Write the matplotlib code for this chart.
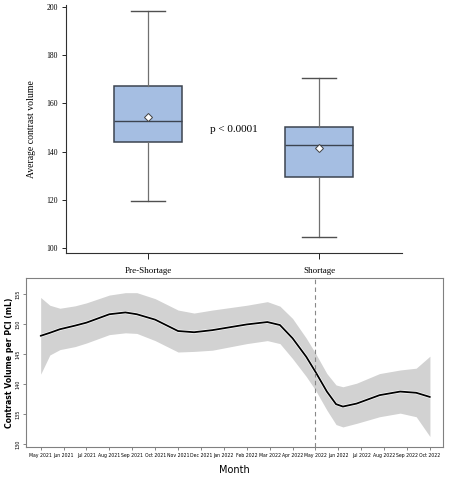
import matplotlib
matplotlib.use("Agg")
import matplotlib.pyplot as plt
import numpy as np

# ---- Top panel data (box plot stats) ----
groups = ["Pre-Shortage", "Shortage"]
whislo = [119.6, 104.7]
q1 = [144.0, 129.3]
med = [152.7, 142.6]
q3 = [167.3, 150.0]
whishi = [198.2, 170.7]
means = [154.3, 141.4]
p_text = "p < 0.0001"

# ---- Bottom panel data (smoothed trend with CI) ----
month_labels = ["May 2021", "Jun 2021", "Jul 2021", "Aug 2021", "Sep 2021", "Oct 2021",
                "Nov 2021", "Dec 2021", "Jan 2022", "Feb 2022", "Mar 2022", "Apr 2022",
                "May 2022", "Jun 2022", "Jul 2022", "Aug 2022", "Sep 2022", "Oct 2022"]
t = [0, 0.4, 0.84, 1.5, 2.0, 3.0, 3.7, 4.2, 5.0, 6.0, 6.7, 7.5, 9.0, 9.9, 10.45, 11.0,
     11.6, 12.0, 12.5, 12.9, 13.2, 13.8, 14.8, 15.7, 16.4, 17]
fit = [148.1, 148.6, 149.2, 149.8, 150.3, 151.7, 152.0, 151.7, 150.8, 148.9, 148.7, 149.05,
       150.0, 150.4, 149.9, 147.7, 144.6, 142.1, 138.8, 136.7, 136.3, 136.8, 138.2, 138.8, 138.6, 137.9]
upper = [154.5, 153.2, 152.7, 153.1, 153.6, 154.9, 155.3, 155.3, 154.3, 152.4, 151.9, 152.4,
         153.2, 153.8, 153.05, 151.0, 147.7, 145.2, 141.8, 139.9, 139.6, 140.2, 141.8, 142.4, 142.7, 144.7]
lower = [141.7, 144.9, 145.8, 146.3, 146.9, 148.3, 148.6, 148.5, 147.3, 145.4, 145.5, 145.7,
         146.8, 147.3, 146.8, 144.3, 141.3, 139.05, 135.7, 133.3, 132.9, 133.5, 134.6, 135.2, 134.6, 131.3]
shortage_start = 12

fig = plt.figure(figsize=(4.5, 4.8), dpi=100)

# ---------- Top panel ----------
serif = ["Liberation Serif", "DejaVu Serif"]
ax1 = fig.add_axes([0.1467, 0.473, 0.7466, 0.5166])
stats = []
for i in range(len(groups)):
    stats.append(dict(label=groups[i], whislo=whislo[i], q1=q1[i], med=med[i],
                      q3=q3[i], whishi=whishi[i], mean=means[i], fliers=[]))
ax1.bxp(stats, positions=[1, 2], widths=0.4, patch_artist=True, showmeans=True,
        boxprops=dict(facecolor="#a5bee2", edgecolor="#3c4450", linewidth=1.1),
        medianprops=dict(color="#3c4450", linewidth=1.0),
        whiskerprops=dict(color="#707070", linewidth=0.9),
        capprops=dict(color="#505050", linewidth=1.0),
        capwidths=0.2,
        meanprops=dict(marker="D", markerfacecolor="white", markeredgecolor="#404040",
                       markersize=4.5, markeredgewidth=0.7))
ax1.set_xlim(0.52, 2.485)
ax1.set_ylim(97.9, 200.8)
ax1.set_yticks([100, 120, 140, 160, 180, 200])
ax1.spines["top"].set_visible(False)
ax1.spines["right"].set_visible(False)
for s in ["left", "bottom"]:
    ax1.spines[s].set_color("#303030")
    ax1.spines[s].set_linewidth(0.8)
ax1.tick_params(axis="y", labelsize=5.5, length=3, width=0.6, pad=3)
ax1.tick_params(axis="x", labelsize=6.5, length=4, width=0.6, pad=6)
for lab in ax1.get_yticklabels() + ax1.get_xticklabels():
    lab.set_family(serif)
ax1.set_ylabel("Average contrast volume", family=serif, fontsize=7, labelpad=7)
ax1.text(1.5, 149, p_text, family=serif, fontsize=8, ha="center", va="center")

# ---------- Bottom panel ----------
ax2 = fig.add_axes([0.0578, 0.0681, 0.9266, 0.3534])
ax2.fill_between(t, lower, upper, color="#d2d2d2", linewidth=0)
ax2.plot(t, fit, color="white", linewidth=2.2, solid_capstyle="round", solid_joinstyle="round")
ax2.plot(t, fit, color="black", linewidth=1.3, solid_capstyle="round", solid_joinstyle="round")
ax2.axvline(shortage_start, color="#888888", linestyle=(0, (4, 3)), linewidth=0.8)
ax2.set_xlim(-0.64, 17.57)
ax2.set_ylim(129.5, 157.8)
ax2.set_xticks(range(len(month_labels)))
ax2.set_xticklabels(month_labels, fontsize=3.3)
ax2.set_yticks([130, 135, 140, 145, 150, 155])
ax2.set_yticklabels(["130", "135", "140", "145", "150", "155"], rotation=90, va="center", fontsize=3.5)
ax2.tick_params(length=2, width=0.5, color="#555555", pad=2)
for s in ax2.spines.values():
    s.set_color("#808080")
    s.set_linewidth(0.8)
ax2.set_ylabel("Contrast Volume per PCI (mL)", fontsize=5.6, fontweight="bold", labelpad=1)
ax2.set_xlabel("Month", fontsize=7, labelpad=5)

fig.savefig("out.png", dpi=100)
